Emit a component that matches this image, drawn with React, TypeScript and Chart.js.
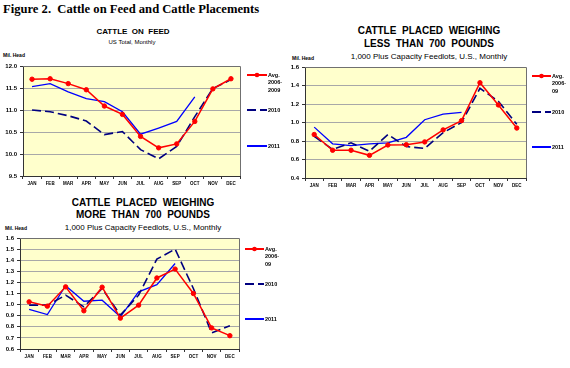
import React, { useEffect, useRef } from "react";
import { Chart, registerables } from "chart.js";
Chart.register(...registerables);

const months = ["JAN", "FEB", "MAR", "APR", "MAY", "JUN", "JUL", "AUG", "SEP", "OCT", "NOV", "DEC"];

// Cattle on feed (mil. head)
const feedAvg = [11.7, 11.71, 11.6, 11.46, 11.09, 10.9, 10.4, 10.14, 10.23, 10.74, 11.48, 11.71];
const feed2010 = [11.0, 10.96, 10.87, 10.75, 10.44, 10.51, 10.1, 9.89, 10.17, 10.85, 11.49, 11.69];
const feed2011 = [11.53, 11.6, 11.41, 11.26, 11.19, 10.96, 10.45, 10.59, 10.74, 11.3, null, null];
const feedTicks = [9.5, 10.0, 10.5, 11.0, 11.5, 12.0];

// Placed < 700 lb
const lightAvg = [0.87, 0.7, 0.7, 0.645, 0.757, 0.76, 0.79, 0.92, 1.02, 1.43, 1.19, 0.94];
const light2010 = [0.85, 0.71, 0.78, 0.69, 0.87, 0.74, 0.72, 0.89, 1.0, 1.37, 1.23, 0.98];
const light2011 = [0.95, 0.77, 0.75, 0.77, 0.78, 0.84, 1.03, 1.09, 1.11, null, null, null];
const lightTicks = [0.4, 0.6, 0.8, 1.0, 1.2, 1.4, 1.6];

// Placed > 700 lb
const heavyAvg = [1.025, 0.986, 1.16, 0.944, 1.157, 0.878, 0.995, 1.24, 1.32, 1.1, 0.79, 0.72];
const heavy2010 = [0.995, 0.995, 1.085, 0.98, 1.145, 0.905, 1.085, 1.41, 1.5, 1.145, 0.745, 0.81];
const heavy2011 = [0.956, 0.91, 1.17, 1.03, 1.04, 0.89, 1.115, 1.18, 1.37, null, null, null];
const heavyTicks = [0.6, 0.7, 0.8, 0.9, 1.0, 1.1, 1.2, 1.3, 1.4, 1.5, 1.6];

const avgLabelFeed = ["Avg.", "2006-", "2009"];
const avgLabelShort = ["Avg.", "2006-", "09"];
const label2010 = "2010";
const label2011 = "2011";

const W = 570;
const H = 368;
const FONT = "'Liberation Sans', Arial, sans-serif";

type Cfg = {
  plot: { l: number; t: number; r: number; b: number };
  avg: (number | null)[];
  s2010: (number | null)[];
  s2011: (number | null)[];
  ticks: number[];
  avgLabel: string[];
  legend: { x0: number; x1: number; tx: number; ys: number[] };
};

const legendPlugin = {
  id: "customLegend",
  beforeDraw(chart: any) {
    const { ctx, chartArea } = chart;
    ctx.save();
    ctx.fillStyle = "#FFFFCC";
    ctx.fillRect(chartArea.left, chartArea.top, chartArea.right - chartArea.left, chartArea.bottom - chartArea.top);
    ctx.restore();
  },
  afterDraw(chart: any, _a: any, opts: any) {
    const { ctx, chartArea } = chart;
    const lg = opts.legend;
    if (!lg) return;
    ctx.save();
    ctx.strokeStyle = "#707070";
    ctx.lineWidth = 1;
    ctx.beginPath();
    ctx.moveTo(chartArea.left, chartArea.top + 0.5);
    ctx.lineTo(chartArea.right + 0.5, chartArea.top + 0.5);
    ctx.lineTo(chartArea.right + 0.5, chartArea.bottom);
    ctx.stroke();

    ctx.font = "bold 5.5px " + FONT;
    ctx.fillStyle = "#000";
    ctx.textBaseline = "middle";
    ctx.textAlign = "left";
    const ds = chart.data.datasets;
    ds.forEach((d: any, i: number) => {
      const y = lg.ys[i];
      ctx.beginPath();
      ctx.strokeStyle = d.borderColor;
      ctx.lineWidth = 2;
      ctx.setLineDash(d.borderDash || []);
      ctx.moveTo(lg.x0, y);
      ctx.lineTo(lg.x1, y);
      ctx.stroke();
      ctx.setLineDash([]);
      if (d.pointRadius > 0) {
        ctx.beginPath();
        ctx.fillStyle = d.pointBackgroundColor;
        ctx.arc((lg.x0 + lg.x1) / 2, y, 2.3, 0, Math.PI * 2);
        ctx.fill();
      }
      ctx.fillStyle = "#000";
      const lines: string[] = Array.isArray(d.label) ? d.label : [d.label];
      lines.forEach((t, k) => ctx.fillText(t, lg.tx, y + k * 7.5));
    });
    ctx.restore();
  },
};

function LineChart({ cfg }: { cfg: Cfg }) {
  const ref = useRef<HTMLCanvasElement>(null);
  useEffect(() => {
    const yW = 20;
    const xH = 14;
    const p = cfg.plot;
    const chart = new Chart(ref.current!, {
      type: "line",
      data: {
        labels: months,
        datasets: [
          {
            label: cfg.avgLabel as any,
            data: cfg.avg,
            borderColor: "#FF0000",
            backgroundColor: "#FF0000",
            pointBackgroundColor: "#FF0000",
            pointBorderColor: "#FF0000",
            pointRadius: 2.2,
            pointBorderWidth: 1,
            borderWidth: 1.5,
            tension: 0,
            order: 1,
          },
          {
            label: label2010,
            data: cfg.s2010,
            borderColor: "#000080",
            backgroundColor: "#000080",
            borderDash: [9, 4],
            pointRadius: 0,
            borderWidth: 1.6,
            tension: 0,
            order: 2,
          },
          {
            label: label2011,
            data: cfg.s2011,
            borderColor: "#0000FF",
            backgroundColor: "#0000FF",
            pointRadius: 0,
            borderWidth: 1.3,
            tension: 0,
            order: 3,
          },
        ],
      },
      options: {
        responsive: false,
        animation: false,
        events: [],
        layout: {
          padding: { left: p.l - yW, top: p.t, right: W - p.r, bottom: H - p.b - xH },
        },
        plugins: {
          legend: { display: false },
          tooltip: { enabled: false },
          title: { display: false },
          customLegend: { legend: cfg.legend },
        } as any,
        scales: {
          x: {
            type: "category",
            offset: true,
            grid: { offset: true, drawOnChartArea: false, tickLength: 3, tickColor: "#333", tickWidth: 1 },
            border: { color: "#333", width: 1 },
            ticks: { font: { size: 4.5, weight: "bold", family: FONT }, color: "#000", padding: 2, maxRotation: 0, autoSkip: false },
            afterFit: (s: any) => {
              s.height = xH;
            },
          },
          y: {
            min: cfg.ticks[0],
            max: cfg.ticks[cfg.ticks.length - 1],
            afterBuildTicks: (s: any) => {
              s.ticks = cfg.ticks.map((v) => ({ value: v }));
            },
            grid: { color: "#A8A8A8", lineWidth: 1, tickLength: 3, tickColor: "#333" },
            border: { color: "#333", width: 1 },
            ticks: {
              font: { size: 6, weight: "bold", family: FONT },
              color: "#000",
              padding: 3,
              callback: (v: any) => Number(v).toFixed(1),
            },
            afterFit: (s: any) => {
              s.width = yW;
            },
          },
        },
      } as any,
      plugins: [legendPlugin as any],
    });
    return () => chart.destroy();
  }, []);
  return (
    <canvas
      ref={ref}
      width={W}
      height={H}
      style={{ position: "absolute", left: 0, top: 0, width: W, height: H }}
    />
  );
}

const cfgA: Cfg = {
  plot: { l: 23, t: 66, r: 240, b: 176 },
  avg: feedAvg,
  s2010: feed2010,
  s2011: feed2011,
  ticks: feedTicks,
  avgLabel: avgLabelFeed,
  legend: { x0: 247, x1: 267, tx: 268, ys: [75, 110, 146] },
};
const cfgB: Cfg = {
  plot: { l: 305, t: 67, r: 526, b: 178 },
  avg: lightAvg,
  s2010: light2010,
  s2011: light2011,
  ticks: lightTicks,
  avgLabel: avgLabelShort,
  legend: { x0: 532, x1: 551, tx: 552, ys: [76, 112, 147] },
};
const cfgC: Cfg = {
  plot: { l: 20, t: 238, r: 239, b: 349 },
  avg: heavyAvg,
  s2010: heavy2010,
  s2011: heavy2011,
  ticks: heavyTicks,
  avgLabel: avgLabelShort,
  legend: { x0: 245, x1: 264, tx: 265, ys: [249, 284, 319] },
};

function Txt({ x, y, size, bold, center, serif, children }: any) {
  return (
    <div
      style={{
        position: "absolute",
        left: x,
        top: y,
        transform: center ? "translate(-50%, -50%)" : "translate(0, -50%)",
        fontFamily: serif ? "'Liberation Serif', 'Times New Roman', serif" : FONT,
        fontSize: size,
        fontWeight: bold ? "bold" : "normal",
        whiteSpace: "pre",
        lineHeight: 1,
        color: "#000",
      }}
    >
      {children}
    </div>
  );
}

export default function App() {
  return (
    <div style={{ position: "absolute", left: 0, top: 0, width: W, height: H, background: "#fff", overflow: "hidden" }}>
      <Txt x={3} y={9} size={12.6} bold serif>
        {"Figure 2.  Cattle on Feed and Cattle Placements"}
      </Txt>

      <Txt x={133} y={32} size={8} bold center>{"CATTLE  ON  FEED"}</Txt>
      <Txt x={132} y={42} size={6} center>{"US Total, Monthly"}</Txt>
      <Txt x={3} y={55} size={5} bold>{"Mil. Head"}</Txt>

      <Txt x={429} y={31} size={10} bold center>{"CATTLE  PLACED  WEIGHING"}</Txt>
      <Txt x={429} y={43.5} size={10} bold center>{"LESS  THAN  700  POUNDS"}</Txt>
      <Txt x={429} y={56.5} size={8} center>{"1,000 Plus Capacity Feedlots, U.S., Monthly"}</Txt>
      <Txt x={292} y={58} size={5} bold>{"Mil. Head"}</Txt>

      <Txt x={143} y={202.5} size={10} bold center>{"CATTLE  PLACED  WEIGHING"}</Txt>
      <Txt x={143} y={215} size={10} bold center>{"MORE  THAN  700  POUNDS"}</Txt>
      <Txt x={143} y={227.5} size={8} center>{"1,000 Plus Capacity Feedlots, U.S., Monthly"}</Txt>
      <Txt x={5} y={228} size={5} bold>{"Mil. Head"}</Txt>

      <LineChart cfg={cfgA} />
      <LineChart cfg={cfgB} />
      <LineChart cfg={cfgC} />
    </div>
  );
}
